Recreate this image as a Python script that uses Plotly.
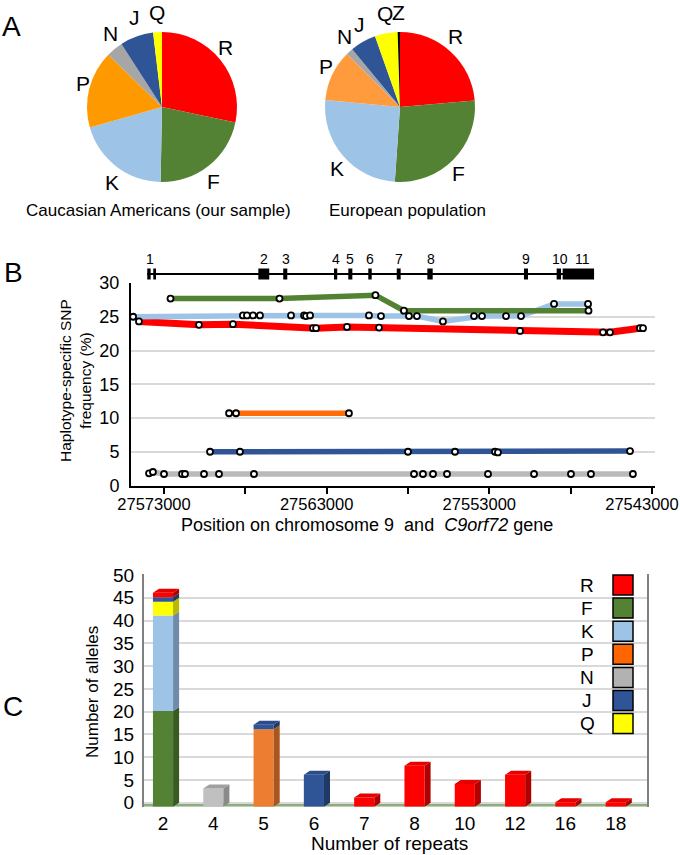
import math
import plotly.graph_objects as go

W, H = 680, 855
FONT = 'Liberation Sans, Arial, sans-serif'

# ---------------- data ----------------
# A: haplogroup shares (%)
pie1_labels = ['R', 'F', 'K', 'P', 'N', 'J', 'Q']
pie1_values = [28.3, 22.0, 20.3, 16.7, 3.6, 7.2, 1.9]
pie1_colors = ['#FF0000', '#548235', '#9DC3E6', '#FF9900', '#A6A6A6', '#2F5597', '#FFFF00']

pie2_labels = ['R', 'F', 'K', 'P', 'N', 'J', 'Q', 'Z']
pie2_values = [23.6, 27.5, 25.4, 11.0, 1.5, 5.6, 4.9, 0.5]
pie2_colors = ['#FF0000', '#548235', '#9DC3E6', '#FF9B3D', '#A6A6A6', '#2F5597', '#FFFF00', '#000000']

# B: haplotype-specific SNP frequency along chr9
pos_N = [27573920, 27573680, 27573000, 27571890, 27571710, 27570540, 27569620, 27567470,
         27557630, 27557080, 27556460, 27555600, 27553080, 27550250, 27547980, 27546750, 27544170]
frq_N = [1.8, 2.0, 1.7, 1.7, 1.7, 1.7, 1.7, 1.7, 1.7, 1.7, 1.7, 1.7, 1.7, 1.7, 1.7, 1.7, 1.7]
pos_J = [27570170, 27568330, 27558000, 27555110, 27552650, 27552470, 27544350]
frq_J = [5.0, 5.0, 5.0, 5.0, 5.0, 4.9, 5.1]
pos_P = [27569000, 27568570, 27561630]
frq_P = [10.7, 10.7, 10.7]
pos_R = [27574540, 27570850, 27568760, 27563840, 27563650, 27561750, 27559780,
         27551110, 27546010, 27545580, 27543740, 27543550]
frq_R = [24.3, 23.8, 23.9, 23.3, 23.3, 23.5, 23.4, 22.9, 22.7, 22.7, 23.3, 23.3]
pos_K = [27574900, 27568150, 27567900, 27567530, 27567100, 27565190, 27564390, 27564270,
         27564020, 27560400, 27559660, 27557940, 27557450, 27555850, 27553940, 27553450,
         27551970, 27551050, 27549020, 27546930]
frq_K = [25.0, 25.2, 25.2, 25.2, 25.2, 25.2, 25.2, 25.1, 25.2, 25.2, 25.1, 25.1, 25.1,
         24.3, 25.1, 25.1, 25.1, 25.1, 26.9, 26.9]
pos_F = [27572600, 27565900, 27560000, 27558250, 27546900]
frq_F = [27.7, 27.7, 28.2, 25.9, 25.9]

x_tickvals = [27573000, 27568000, 27563000, 27558000, 27553000, 27548000, 27543000]
x_ticktext = ['27573000', '', '27563000', '', '27553000', '', '27543000']

# C9orf72 exons (exon 1 has two pieces)
exon_start = [27574030, 27573660, 27567200, 27565670, 27562550, 27561670, 27560440,
              27558690, 27556810, 27550870, 27548860, 27548490]
exon_end = [27573820, 27573490, 27566530, 27565420, 27562350, 27561420, 27560230,
            27558450, 27556480, 27550620, 27548590, 27546560]
exon_names = ['1', '2', '3', '4', '5', '6', '7', '8', '9', '10', '11']
exon_label_pos = [27573850, 27566850, 27565500, 27562450, 27561550, 27560350, 27558570,
                  27556560, 27550740, 27548660, 27547260]

# C: alleles by repeat number and haplogroup
repeats = ['2', '4', '5', '6', '7', '8', '10', '12', '16', '18']
alleles = {
    'F': [21, 0, 0, 0, 0, 0, 0, 0, 0, 0],
    'K': [21, 0, 0, 0, 0, 0, 0, 0, 0, 0],
    'P': [0, 0, 17, 0, 0, 0, 0, 0, 0, 0],
    'N': [0, 4, 0, 0, 0, 0, 0, 0, 0, 0],
    'Q': [3, 0, 0, 0, 0, 0, 0, 0, 0, 0],
    'J': [1, 0, 1, 7, 0, 0, 0, 0, 0, 0],
    'R': [1, 0, 0, 0, 2, 9, 5, 7, 1, 1],
}
legend_names = ['R', 'F', 'K', 'P', 'N', 'J', 'Q']

# ---------------- styles ----------------
line_col = {'N': '#BABABA', 'J': '#2F5597', 'P': '#FF6A0A', 'R': '#FF0000', 'K': '#9DC3E6', 'F': '#548235'}
bar_front = {'F': '#548235', 'K': '#9DC3E6', 'P': '#ED7D31', 'N': '#C0C0C0',
             'Q': '#FFFF00', 'J': '#2F5597', 'R': '#FF0000'}
bar_side = {'F': '#3A5A24', 'K': '#6E8CAA', 'P': '#A9561F', 'N': '#8A8A8A',
            'Q': '#B8B800', 'J': '#1F3864', 'R': '#B00000'}
bar_top = {'F': '#4A7530', 'K': '#8DB3D6', 'P': '#D96E28', 'N': '#A0A0A0',
           'Q': '#E8E800', 'J': '#2A4D8A', 'R': '#E80000'}
legend_col = {'R': '#FF0000', 'F': '#548235', 'K': '#9DC3E6', 'P': '#FF6600',
              'N': '#B2B2B2', 'J': '#2F5597', 'Q': '#FFFF00'}


def fx(p):
    return p / W


def fy(p):
    return 1 - p / H


def txt(text, x, y, size, **kw):
    d = dict(text=text, x=x, y=y, xref='paper', yref='paper', showarrow=False,
             xanchor='center', yanchor='middle', font=dict(size=size, color='black', family=FONT))
    d.update(kw)
    return d


fig = go.Figure()
shapes = []
annotations = []

# ---------------- panel A ----------------
PIE_R = 75
for labels, values, colors, cx in [(pie1_labels, pie1_values, pie1_colors, 162),
                                   (pie2_labels, pie2_values, pie2_colors, 400)]:
    cy = 107
    fig.add_trace(go.Pie(
        labels=labels, values=values, sort=False, direction='clockwise', rotation=0,
        marker=dict(colors=colors, line=dict(width=0)), textinfo='none', showlegend=False,
        domain=dict(x=[fx(cx - PIE_R), fx(cx + PIE_R)], y=[fy(cy + PIE_R), fy(cy - PIE_R)]),
        hoverinfo='label+percent'))
    # slice letters just outside the pie, at each slice's middle angle
    total = sum(values)
    acc = 0
    for lab, v in zip(labels, values):
        mid = (acc + v / 2) / total * 2 * math.pi
        acc += v
        annotations.append(txt(lab, fx(cx + 82 * math.sin(mid)), fy(cy - 95 * math.cos(mid)), 21))

# ---------------- panel B ----------------
series = [('N', pos_N, frq_N), ('J', pos_J, frq_J), ('P', pos_P, frq_P),
          ('R', pos_R, frq_R), ('K', pos_K, frq_K), ('F', pos_F, frq_F)]
for name, xs, ys in series:
    fig.add_trace(go.Scatter(x=xs, y=ys, mode='lines', name=name,
                             line=dict(color=line_col[name], width=7 if name == 'R' else 5.5),
                             xaxis='x', yaxis='y', showlegend=False))
for name, xs, ys in series:
    fig.add_trace(go.Scatter(x=xs, y=ys, mode='markers', name=name,
                             marker=dict(color='white', size=6, line=dict(color='black', width=1.8)),
                             xaxis='x', yaxis='y', showlegend=False))

# gene model above panel B
shapes.append(dict(type='line', xref='x', yref='paper', x0=exon_start[0], x1=exon_end[-1],
                   y0=fy(274), y1=fy(274), line=dict(color='black', width=2)))
for s, e in zip(exon_start, exon_end):
    shapes.append(dict(type='rect', xref='x', yref='paper', x0=s, x1=e, y0=fy(279.5), y1=fy(268.5),
                       fillcolor='black', line=dict(width=0)))
for name, p in zip(exon_names, exon_label_pos):
    annotations.append(dict(text=name, x=p, y=fy(259), xref='x', yref='paper', showarrow=False,
                            xanchor='center', yanchor='middle',
                            font=dict(size=14, color='black', family=FONT)))

# ---------------- panel C ----------------
DX, DY, BW = 0.12, 0.88, 0.4
stack = ['F', 'K', 'P', 'N', 'Q', 'J', 'R']
idx = list(range(len(repeats)))
cum = [0] * len(repeats)
totals = [sum(alleles[h][i] for h in stack) for i in idx]
for h in stack:
    vals = alleles[h]
    base = [c - DY for c in cum]
    fig.add_trace(go.Bar(x=idx, y=vals, base=base, width=BW, marker=dict(color=bar_front[h], line=dict(width=0)),
                         xaxis='x3', yaxis='y3', showlegend=False, name=h))
    sx, sy, tx, ty = [], [], [], []
    for i in idx:
        if vals[i] <= 0:
            continue
        b = cum[i] - DY
        t = cum[i] + vals[i] - DY
        r = i + BW / 2
        sx += [r, r + DX, r + DX, r, r, None]
        sy += [b, b + DY, t + DY, t, b, None]
        if cum[i] + vals[i] == totals[i]:
            l = i - BW / 2
            tx += [l, r, r + DX, l + DX, l, None]
            ty += [t, t, t + DY, t + DY, t, None]
    fig.add_trace(go.Scatter(x=sx, y=sy, mode='lines', fill='toself', fillcolor=bar_side[h],
                             line=dict(width=0, color=bar_side[h]), xaxis='x3', yaxis='y3',
                             showlegend=False, hoverinfo='skip'))
    if tx:
        fig.add_trace(go.Scatter(x=tx, y=ty, mode='lines', fill='toself', fillcolor=bar_top[h],
                                 line=dict(width=0, color=bar_top[h]), xaxis='x3', yaxis='y3',
                                 showlegend=False, hoverinfo='skip'))
    cum = [c + v for c, v in zip(cum, vals)]

# floor of the 3D chart
shapes.append(dict(type='rect', xref='x3 domain', yref='y3', x0=0, x1=1, y0=-DY, y1=0,
                   fillcolor='#8FAC7C', line=dict(width=0), layer='below'))

# legend of panel C
for k, name in enumerate(legend_names):
    cy = 585 + k * 23.1
    shapes.append(dict(type='rect', xref='paper', yref='paper', x0=fx(613), x1=fx(633),
                       y0=fy(cy + 10), y1=fy(cy - 10), fillcolor=legend_col[name],
                       line=dict(color='black', width=1.5)))
    annotations.append(txt(name, fx(587), fy(cy), 19))

# text
annotations += [
    txt('A', fx(11), fy(27), 28),
    txt('B', fx(13), fy(272), 28),
    txt('C', fx(13), fy(706), 28),
    txt('Caucasian Americans (our sample)', fx(158), fy(211), 17),
    txt('European population', fx(407), fy(211), 17),
    txt('Haplotype-specific SNP<br>frequency (%)', fx(75), fy(381), 15.5, textangle=-90),
    txt('Position on chromosome 9\u00a0\u00a0and\u00a0\u00a0<i>C9orf72</i> gene', fx(367), fy(525), 18),
    txt('Number of alleles', fx(92), fy(692), 17, textangle=-90),
    txt('Number of repeats', fx(389), fy(843), 19),
]

fig.update_layout(
    width=W, height=H, margin=dict(l=0, r=0, t=0, b=0, autoexpand=False),
    paper_bgcolor='white', plot_bgcolor='white',
    font=dict(family=FONT, color='black'),
    barmode='overlay',
    xaxis=dict(domain=[fx(131), fx(655)], range=[27575029, 27542813], tickvals=x_tickvals,
               ticktext=x_ticktext, showline=True, linecolor='black', linewidth=2, ticks='outside',
               ticklen=6, tickwidth=2, tickcolor='black', showgrid=False, zeroline=False,
               tickfont=dict(size=16.5), ticklabelshift=10, ticklabelstandoff=-3,
               ticklabeloverflow='allow', automargin=False, anchor='y'),
    yaxis=dict(domain=[fy(485.5), fy(283)], range=[0, 30], dtick=5, showgrid=True, gridcolor='#D9D9D9',
               gridwidth=1.5, showline=True, linecolor='black', linewidth=2, ticks='', zeroline=False,
               tickfont=dict(size=18), ticklabelstandoff=6, automargin=False, anchor='x'),
    xaxis3=dict(domain=[fx(144), fx(647)], range=[-0.378, 9.622], tickvals=idx, ticktext=repeats,
                showline=False, showgrid=False, zeroline=False, ticks='', tickfont=dict(size=19),
                ticklabelstandoff=3, automargin=False, anchor='y3'),
    yaxis3=dict(domain=[fy(806.8), fy(574.1)], range=[-0.9, 50.2], tickvals=list(range(0, 51, 5)),
                showgrid=True, gridcolor='#D9D9D9', gridwidth=1.5, showline=True, linecolor='#808080',
                linewidth=2, mirror=True, ticks='', zeroline=False, tickfont=dict(size=19),
                ticklabelstandoff=4, automargin=False, anchor='x3'),
    shapes=shapes, annotations=annotations,
)

fig.write_html("out.html", config={'displayModeBar': False},
               post_script="document.body.style.margin='0';document.body.style.overflow='hidden';")
